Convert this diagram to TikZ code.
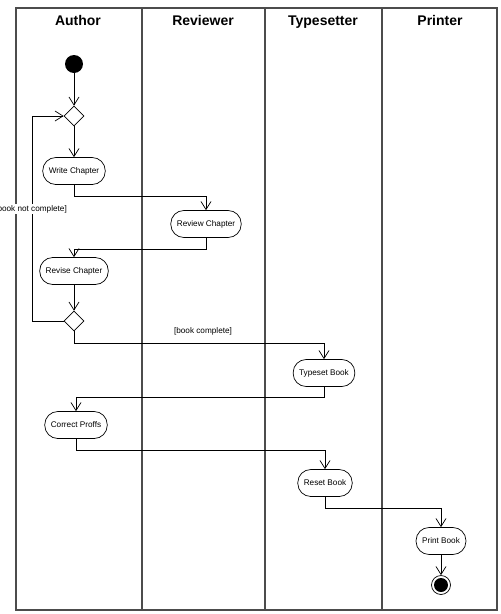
\documentclass[tikz,border=0pt]{standalone}
\usepackage{fontspec}
\setmainfont{Liberation Sans}
\usetikzlibrary{arrows.meta,shapes.geometric}

\begin{document}
\begin{tikzpicture}[
        x=1pt, y=-1pt,
        accion/.style={draw, rectangle, rounded corners=13pt, minimum height=27pt,
            inner xsep=6pt, font=\fontsize{8.2}{10}\selectfont, line width=0.7pt},
        decision/.style={draw, diamond, minimum size=20pt, inner sep=0pt, line width=0.7pt,
            shape aspect=1},
        flujo/.style={line width=0.7pt, -{Straight Barb[length=8pt,width=10pt]}},
        guarda/.style={font=\fontsize{8.2}{10}\selectfont, inner sep=1pt},
        carril/.style={draw=black!70, line width=1.1pt},
        titulo/.style={font=\fontsize{14}{16}\selectfont\bfseries, anchor=base}
    ]
        \useasboundingbox (0,0) rectangle (501,614);

        % Carriles
        \draw[carril] (16,8) rectangle (497,610);
        \foreach \x in {142,265,382}
            \draw[carril] (\x,8) -- (\x,610);
        \node[titulo] (tAuthor) at (78,25) {Author};
        \node[titulo] (tReviewer) at (203,25) {Reviewer};
        \node[titulo] (tTypesetter) at (323,25) {Typesetter};
        \node[titulo] (tPrinter) at (440,25) {Printer};

        % Nodos de la actividad
        \node[circle, fill=black, minimum size=18pt, inner sep=0pt] (ini) at (74,64) {};
        \node[decision] (dec1) at (74,116) {};
        \node[accion] (write) at (74,171) {Write Chapter};
        \node[accion] (review) at (206,224) {Review Chapter};
        \node[accion] (revise) at (74,271) {Revise Chapter};
        \node[decision] (dec2) at (74,321) {};
        \node[accion] (typeset) at (324,373) {Typeset Book};
        \node[accion] (correct) at (76,425) {Correct Proffs};
        \node[accion] (reset) at (325,483) {Reset Book};
        \node[accion] (print) at (441,541) {Print Book};
        \node[circle, draw, line width=0.7pt, minimum size=19pt, inner sep=0pt] (fin) at (441,585) {};
        \fill (fin.center) circle (7);

        % Transiciones
        \draw[flujo] (ini) -- (dec1);
        \draw[flujo] (dec1) -- (write);
        \draw[flujo] (write.south) -- ++(0,11) -| (review.north);
        \draw[flujo] (review.south) -- ++(0,11) -| (revise.north);
        \draw[flujo] (revise) -- (dec2);
        \draw[flujo] (dec2.west) -- ++(-31,0) |- (dec1.west);
        \node[guarda, fill=white, anchor=east] (gNo) at (68,209) {[book not complete]};
        \draw[flujo] (dec2.south) -- ++(0,12) -| (typeset.north);
        \node[guarda] (gSi) at (203,331) {[book complete]};
        \draw[flujo] (typeset.south) -- ++(0,10) -| (correct.north);
        \draw[flujo] (correct.south) -- ++(0,11) -| (reset.north);
        \draw[flujo] (reset.south) -- ++(0,11) -| (print.north);
        \draw[flujo] (print) -- (fin);
\end{tikzpicture}
\end{document}
